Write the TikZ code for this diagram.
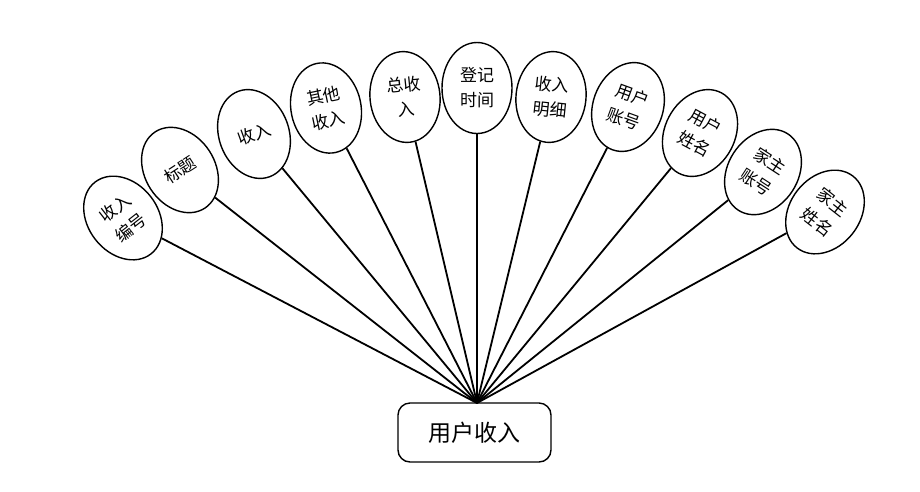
\documentclass[tikz,border=0pt]{standalone}
\usepackage{fontspec}
\setmainfont{Noto Sans CJK SC}
\usetikzlibrary{shapes.geometric}
\begin{document}
\begin{tikzpicture}[x=1pt,y=-1pt,
  attr/.style={draw, line width=1.4pt, ellipse, minimum width=70pt, minimum height=91pt, inner sep=0pt, align=center, font=\fontsize{17}{25}\selectfont},
  entity/.style={draw, line width=1.4pt, rounded corners=12pt, minimum width=153pt, minimum height=59pt, inner sep=0pt, font=\fontsize{23}{27}\selectfont},
  link/.style={line width=1.8pt}]
\useasboundingbox (0,0) rectangle (920,491);
\node[entity] (u) at (474.5,432.5) {用户收入};
\coordinate (hub) at (477,403);
\node[attr, rotate=38] (a1) at (123,218) {收入\\编号};
\node[attr, rotate=33] (a2) at (180,170) {标题};
\node[attr, rotate=20] (a3) at (254,134) {收入};
\node[attr, rotate=12] (a4) at (326,108) {其他\\收入};
\node[attr, rotate=6] (a5) at (405,97) {总收\\入};
\node[attr, rotate=0] (a6) at (477,88) {登记\\时间};
\node[attr, rotate=-6] (a7) at (551,97) {收入\\明细};
\node[attr, rotate=-20] (a8) at (628,107) {用户\\账号};
\node[attr, rotate=-28] (a9) at (700,133) {用户\\姓名};
\node[attr, rotate=-33] (a10) at (763,172) {家主\\账号};
\node[attr, rotate=-38] (a11) at (825,212) {家主\\姓名};
\foreach \i in {1,...,11} \draw[link] (hub) -- (a\i);
\end{tikzpicture}
\end{document}
